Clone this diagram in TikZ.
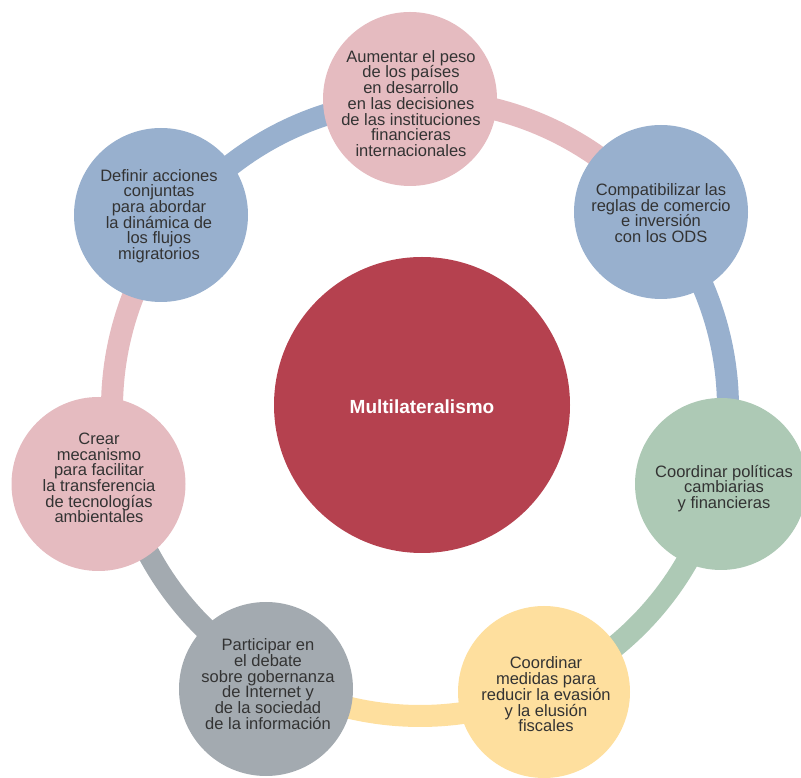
\documentclass[tikz,border=0pt]{standalone}
\usepackage{fontspec}
\setmainfont{Liberation Sans}
\definecolor{cpink}{HTML}{E5BBC0}
\definecolor{cblue}{HTML}{98B0CE}
\definecolor{cgreen}{HTML}{ADC9B5}
\definecolor{cyellow}{HTML}{FEDF9E}
\definecolor{cgray}{HTML}{A3AAB0}
\definecolor{cred}{HTML}{B5414F}
\definecolor{txt}{HTML}{333333}
\begin{document}
\begin{tikzpicture}[x=1pt,y=1pt,
  bub/.style={circle, inner sep=0pt, minimum size=#1},
  lab/.style={align=center, text=txt, font=\fontsize{16.5}{15.7}\selectfont, inner sep=0pt},
  ringarc/.style={line width=22pt}]
\useasboundingbox (0,0) rectangle (801,777);
\coordinate (rc) at (420,369);
% ring arcs
\draw[ringarc, cpink]   (rc) ++(39.1:308pt)  arc[start angle=39.1,  end angle=91.9,  radius=308pt];
\draw[ringarc, cblue]   (rc) ++(-14.2:308pt) arc[start angle=-14.2, end angle=39.1,  radius=308pt];
\draw[ringarc, cgreen]  (rc) ++(-66.4:308pt) arc[start angle=-66.4, end angle=-14.2, radius=308pt];
\draw[ringarc, cyellow] (rc) ++(-118.7:308pt) arc[start angle=-118.7, end angle=-66.4, radius=308pt];
\draw[ringarc, cgray]   (rc) ++(-166.7:308pt) arc[start angle=-166.7, end angle=-118.7, radius=308pt];
\draw[ringarc, cpink]   (rc) ++(143.3:308pt) arc[start angle=143.3, end angle=193.3, radius=308pt];
\draw[ringarc, cblue]   (rc) ++(91.9:308pt)  arc[start angle=91.9,  end angle=143.3, radius=308pt];
% circles
\node[bub=174pt, fill=cpink]   (c1) at (410,678) {};
\node[bub=174pt, fill=cblue]   (c2) at (661,565) {};
\node[bub=172pt, fill=cgreen]  (c3) at (721,293) {};
\node[bub=172pt, fill=cyellow] (c4) at (544,85) {};
\node[bub=174pt, fill=cgray]   (c5) at (266,88) {};
\node[bub=174pt, fill=cpink]   (c6) at (98.5,293) {};
\node[bub=174pt, fill=cblue]   (c7) at (161,562) {};
\node[bub=296pt, fill=cred]    (cc) at (422,372) {};
% texts
\node[lab] (t1) at (411,673.5) {Aumentar el peso\\de los países\\en desarrollo\\en las decisiones\\de las instituciones\\financieras\\internacionales};
\node[lab] (t2) at (661,564) {Compatibilizar las\\reglas de comercio\\e inversión\\con los ODS};
\node[lab] (t3) at (724,288.5) {Coordinar políticas\\cambiarias\\y financieras};
\node[lab] (t4) at (546,82.5) {Coordinar\\medidas para\\reducir la evasión\\y la elusión\\fiscales};
\node[lab] (t5) at (268,93) {Participar en\\el debate\\sobre gobernanza\\de Internet y\\de la sociedad\\de la información};
\node[lab] (t6) at (99,299) {Crear\\mecanismo\\para facilitar\\la transferencia\\de tecnologías\\ambientales};
\node[lab] (t7) at (159,561) {Definir acciones\\conjuntas\\para abordar\\la dinámica de\\los flujos\\migratorios};
\node[font=\fontsize{19}{22}\selectfont\bfseries, text=white, inner sep=0pt] (tc) at (422,370) {Multilateralismo};
\end{tikzpicture}
\end{document}
